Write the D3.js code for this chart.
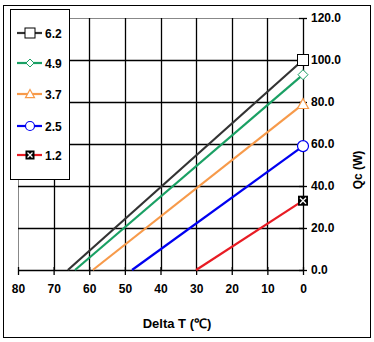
<!DOCTYPE html>
<html><head><meta charset="utf-8">
<script src="https://cdn.jsdelivr.net/npm/d3@7"></script>
<style>body{margin:0;background:#fff;}svg{display:block;font-family:Arial,"Liberation Sans",sans-serif;}</style>
</head><body>
<svg id="c" width="374" height="342"></svg>
<script>
const seriesNames = ["6.2","4.9","3.7","2.5","1.2"];
const deltaTIntercepts = [66, 64, 59, 48, 30];   // ΔT where Qc = 0
const qcAtZero = [100, 93, 79, 59, 33];          // Qc at ΔT = 0
const colors = ["#333333","#1aa064","#f79a4a","#0000f0","#e81c24"];
const markers = ["square","diamond","triangle","circle","xbox"];
const xTicks = [80,70,60,50,40,30,20,10,0];
const yTicks = [0,20,40,60,80,100,120];

const svg = d3.select("#c");
svg.append("rect").attr("x",3.5).attr("y",5.5).attr("width",367).attr("height",332)
  .attr("fill","#fff").attr("stroke","#000").attr("stroke-width",1);

const L=18, R=303, T=18, B=270;
const x = d3.scaleLinear().domain([80,0]).range([L,R]);
const y = d3.scaleLinear().domain([0,120]).range([B,T]);

// plot border (gray top/left)
svg.append("line").attr("x1",L).attr("x2",R).attr("y1",T+0.5).attr("y2",T+0.5).attr("stroke","#888");
svg.append("line").attr("x1",L+0.5).attr("x2",L+0.5).attr("y1",T).attr("y2",B).attr("stroke","#888");

// grid
const g = svg.append("g");
xTicks.filter(d=>d!==80 && d!==0).forEach(d=>{
  g.append("line").attr("x1",Math.round(x(d))+0.5).attr("x2",Math.round(x(d))+0.5)
   .attr("y1",T).attr("y2",B).attr("stroke","#000").attr("stroke-width",1.3);
});
yTicks.filter(d=>d!==0 && d!==120).forEach(d=>{
  g.append("line").attr("x1",L).attr("x2",R).attr("y1",Math.round(y(d))+0.5).attr("y2",Math.round(y(d))+0.5)
   .attr("stroke","#000").attr("stroke-width",1.3);
});

// axes
const xAxis = d3.axisBottom(x).tickValues(xTicks).tickSizeInner(5).tickSizeOuter(0).tickPadding(9);
const xa = svg.append("g").attr("transform",`translate(0,${B})`).call(xAxis);
xa.selectAll("line").attr("y1",-3).attr("stroke","#000").attr("stroke-width",1.3);
xa.select(".domain").attr("stroke","#000").attr("stroke-width",1.3);
xa.selectAll("text").attr("font-size",12).attr("font-weight","bold").attr("fill","#000")
  .attr("font-family","Arial,'Liberation Sans',sans-serif");

const yAxis = d3.axisRight(y).tickValues(yTicks).tickFormat(d3.format(".1f")).tickSizeInner(4).tickSizeOuter(0).tickPadding(4);
const ya = svg.append("g").attr("transform",`translate(${R},0)`).call(yAxis);
ya.selectAll("line").attr("x1",-4).attr("stroke","#000").attr("stroke-width",1.3);
ya.select(".domain").attr("stroke","#000").attr("stroke-width",1.3);
ya.selectAll("text").attr("font-size",12).attr("font-weight","bold").attr("fill","#000")
  .attr("font-family","Arial,'Liberation Sans',sans-serif");

// titles
svg.append("text").attr("x",177).attr("y",328).attr("text-anchor","middle")
  .attr("font-size",13).attr("font-weight","bold").text("Delta T (℃)");
svg.append("text").attr("transform","translate(362,170) rotate(-90)").attr("text-anchor","middle")
  .attr("font-size",12).attr("font-weight","bold").text("Qc (W)");

function drawMarker(sel, type, cx, cy, color, s){
  if(type==="square") sel.append("rect").attr("x",cx-s).attr("y",cy-s).attr("width",2*s).attr("height",2*s).attr("fill","#fff").attr("stroke","#000").attr("stroke-width",1);
  else if(type==="diamond") sel.append("path").attr("d",`M${cx},${cy-s}L${cx+s},${cy}L${cx},${cy+s}L${cx-s},${cy}Z`).attr("fill","#fff").attr("stroke",color).attr("stroke-width",1);
  else if(type==="triangle") sel.append("path").attr("d",`M${cx},${cy-s}L${cx+s},${cy+s*0.8}L${cx-s},${cy+s*0.8}Z`).attr("fill","#fff").attr("stroke",color).attr("stroke-width",1.2);
  else if(type==="circle") sel.append("circle").attr("cx",cx).attr("cy",cy).attr("r",s).attr("fill","#fff").attr("stroke",color).attr("stroke-width",1.2);
  else if(type==="xbox"){
    sel.append("rect").attr("x",cx-s).attr("y",cy-s).attr("width",2*s).attr("height",2*s).attr("fill","#000");
    sel.append("path").attr("d",`M${cx-s+2},${cy-s+2}L${cx+s-2},${cy+s-2}M${cx+s-2},${cy-s+2}L${cx-s+2},${cy+s-2}`).attr("stroke","#fff").attr("stroke-width",1.3);
  }
}

// series (draw back to front)
const line = d3.line().x(d=>x(d[0])).y(d=>y(d[1]));
const order = [4,3,2,1,0];
order.forEach(i=>{
  const pts = [[deltaTIntercepts[i],0],[0,qcAtZero[i]]];
  svg.append("path").attr("d",line(pts)).attr("fill","none").attr("stroke",colors[i]).attr("stroke-width",2.2);
});
order.forEach(i=>{
  const s = markers[i]==="square"?5.5:markers[i]==="diamond"?5:markers[i]==="triangle"?5.5:markers[i]==="circle"?5.5:5;
  drawMarker(svg.append("g"), markers[i], x(0), y(qcAtZero[i]), colors[i], s);
});

// legend
svg.append("rect").attr("x",10.5).attr("y",9.5).attr("width",59).attr("height",170).attr("fill","#fff").attr("stroke","#000");
const ly = [33,63,94,126,155];
seriesNames.forEach((n,i)=>{
  const lg = svg.append("g");
  lg.append("line").attr("x1",17).attr("x2",42).attr("y1",ly[i]).attr("y2",ly[i]).attr("stroke",colors[i]).attr("stroke-width",2.2);
  const s = markers[i]==="square"?5:markers[i]==="diamond"?4:markers[i]==="circle"?4.5:4.5;
  drawMarker(lg, markers[i], 30, ly[i], colors[i], s);
  lg.append("text").attr("x",45).attr("y",ly[i]+4.5).attr("font-size",12).attr("font-weight","bold").text(n);
});
</script>
</body></html>
